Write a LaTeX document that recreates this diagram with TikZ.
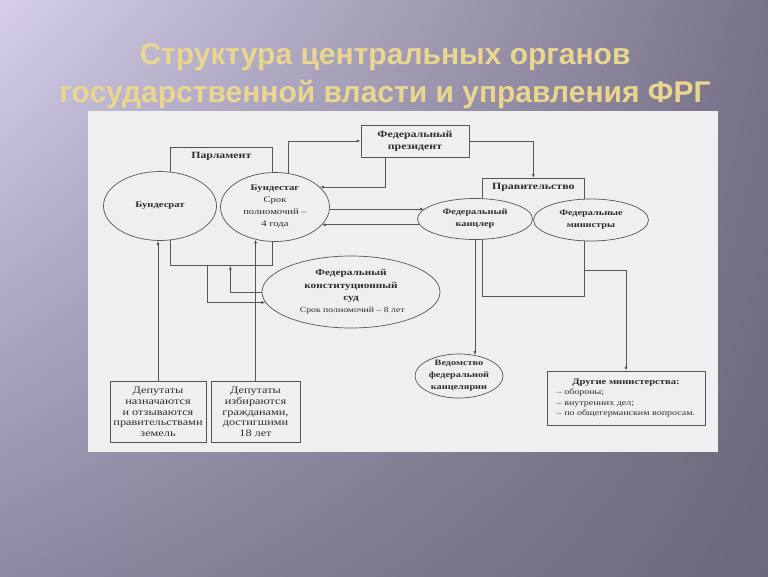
\documentclass[tikz,border=0pt]{standalone}
\usepackage{fontspec}
\setmainfont[FakeStretch=1.25]{Liberation Serif}
\newfontfamily\titlefont{Liberation Sans}
\usetikzlibrary{shapes.geometric,arrows.meta,shadings}

\definecolor{slideA}{RGB}{214,206,234}
\definecolor{slideB}{RGB}{120,115,138}
\definecolor{slideC}{RGB}{142,136,163}
\definecolor{slideD}{RGB}{108,104,122}
\definecolor{titlegold}{RGB}{234,214,142}
\definecolor{scanbg}{RGB}{239,239,239}
\definecolor{inkgray}{RGB}{85,85,85}
\definecolor{textgray}{RGB}{45,45,45}
\newcommand{\plaintxt}[1][8.5]{\fontsize{#1}{10.5}\selectfont\mdseries}

\begin{document}
\begin{tikzpicture}[x=1pt, y=-1pt, line width=0.7pt,
    every node/.style={text=textgray, align=center, font=\fontsize{9.5}{12}\selectfont\bfseries},
    oval/.style={ellipse, draw=inkgray, fill=scanbg, inner sep=-2pt, font=\fontsize{8.2}{12}\selectfont\bfseries},
    frame/.style={draw=inkgray, inner sep=2pt},
    link/.style={draw=inkgray, -{Latex[length=4pt, width=3pt]}}]
    % --- Slide ---
    \useasboundingbox (0,0) rectangle (768,576);
    \shade[upper left=slideA, upper right=slideB, lower left=slideC, lower right=slideD] (0,0) rectangle (768,576);
    \node[font=\titlefont\fontsize{30}{38}\selectfont\bfseries, text=titlegold] (title) at (385,76)
        {Структура центральных органов\\государственной власти и управления ФРГ};
    \fill[scanbg] (88,111) rectangle (718,452);

    % --- Frames ---
    \node[frame, minimum width=102pt, minimum height=118pt, anchor=north west] (parl) at (170,147) {};
    \node[anchor=north, yshift=-2pt] (parlname) at (parl.north) {Парламент};
    \node[frame, minimum width=102pt, minimum height=118pt, anchor=north west] (gov) at (482,178) {};
    \node[anchor=north, yshift=-2pt] (govname) at (gov.north) {Правительство};
    \node[frame, minimum width=108pt, minimum height=32pt] (pres) at (415,141) {Федеральный\\президент};

    % --- Organs ---
    \node[oval, font=\fontsize{8.5}{12}\selectfont\bfseries, minimum width=113pt, minimum height=69pt] (br) at (160,206) {Бундесрат};
    \node[oval, font=\fontsize{8.5}{12}\selectfont\bfseries, minimum width=109pt, minimum height=69pt] (bt) at (275,207)
        {Бундестаг\\\plaintxt Срок\\\plaintxt полномочий –\\\plaintxt 4 года};
    \node[oval, font=\fontsize{9}{12.3}\selectfont\bfseries, minimum width=178pt, minimum height=72pt] (court) at (351,292)
        {Федеральный\\конституционный\\суд\\\plaintxt[7.8] Срок полномочий – 8 лет};
    \node[oval, minimum width=115pt, minimum height=41pt] (kanz) at (475,219) {Федеральный\\канцлер};
    \node[oval, minimum width=115pt, minimum height=42pt] (mins) at (591,220) {Федеральные\\министры};
    \node[oval, minimum width=88pt, minimum height=44pt] (ved) at (459,376) {Ведомство\\федеральной\\канцелярии};
    \node[frame, font={\plaintxt[8]}, minimum width=158pt, minimum height=54pt] (other) at (626,398)
        {\begin{tabular}{@{}l@{}}
         \multicolumn{1}{@{}c@{}}{\fontsize{8.5}{10.5}\selectfont\bfseries Другие министерства:}\\
         – обороны;\\
         – внутренних дел;\\
         – по общегерманским вопросам.
         \end{tabular}};

    % --- Deputies ---
    \node[frame, font=\fontsize{9.8}{10.8}\selectfont, minimum width=96pt, minimum height=61pt] (dep1) at (158,412)
        {Депутаты\\назначаются\\и отзываются\\правительствами\\земель};
    \node[frame, font=\fontsize{9.8}{10.8}\selectfont, minimum width=89pt, minimum height=61pt] (dep2) at (255.5,412)
        {Депутаты\\избираются\\гражданами,\\достигшими\\18 лет};

    % --- Links ---
    \draw[link] (bt.69) |- (pres.west);
    \draw[link] ([xshift=-30pt]pres.south) |- (bt.24);
    \draw[link] (pres.east) -| (gov.north);
    \draw[link] (bt.east |- kanz.169) -- (kanz.169);
    \draw[link] (kanz.186) -- (kanz.186 -| bt.-21);
    \draw[link] ([xshift=-14pt]parl.south) |- (court.187);
    \draw[link] (court.west) -| ([xshift=9pt]parl.south);
    \draw[link] (dep1.north) -- (dep1.north |- br.south);
    \draw[link] (dep2.north) -- (dep2.north |- bt.238);
    \draw[link] (kanz.south) -- (kanz.south |- ved.52);
    \draw[link] ([yshift=-33pt]gov.east) -| (other.north);
\end{tikzpicture}
\end{document}
